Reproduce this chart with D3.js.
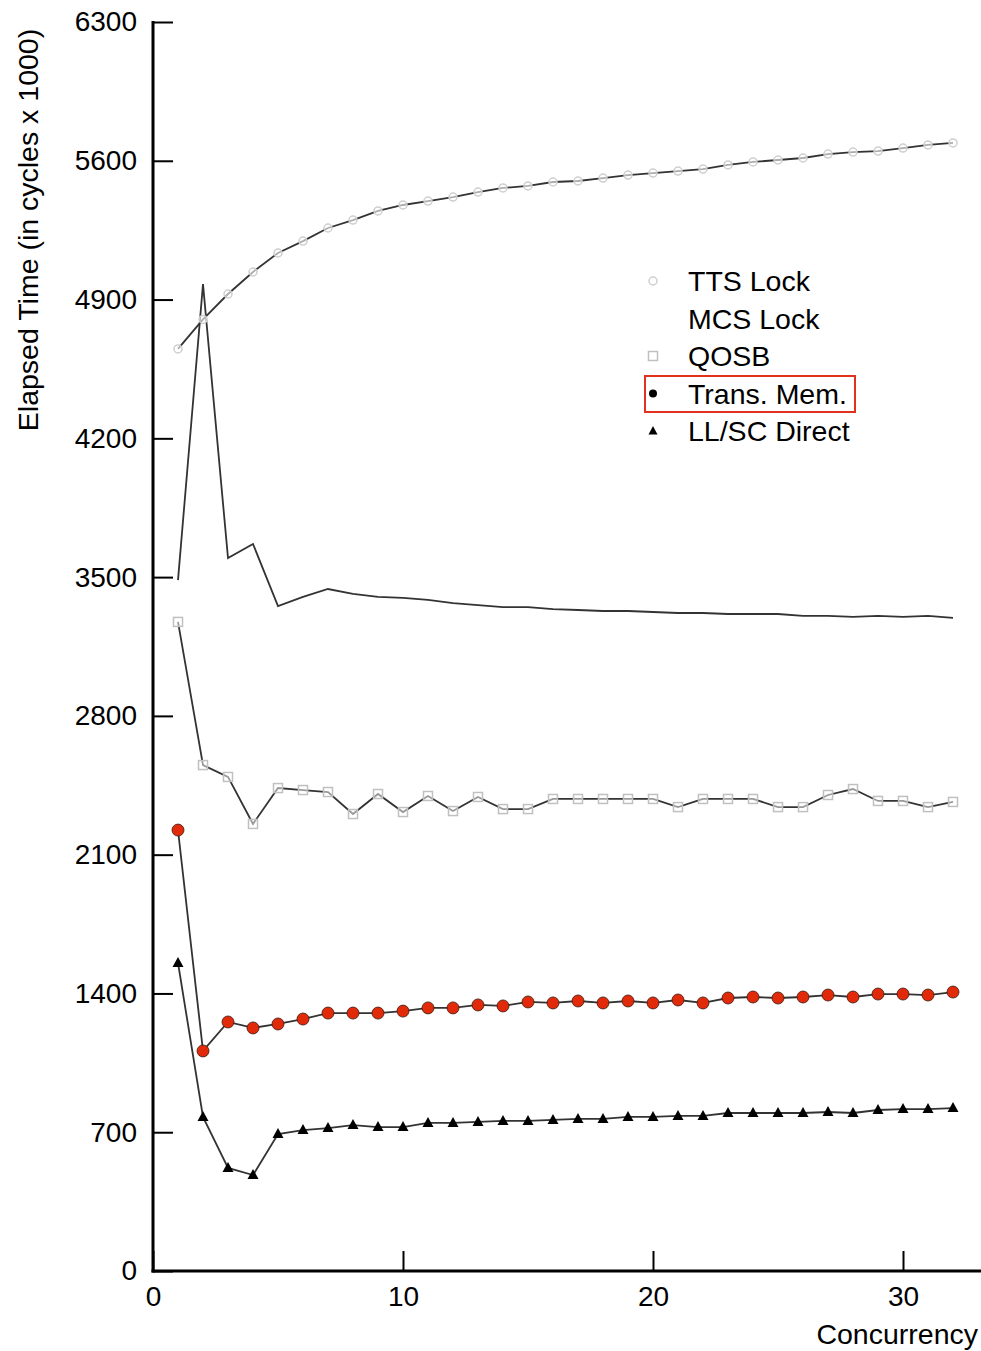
<!DOCTYPE html>
<html>
<head>
<meta charset="utf-8">
<script src="https://cdn.jsdelivr.net/npm/d3@7"></script>
<style>
  body { margin: 0; background: #fff; }
  svg text { font-family: "Liberation Sans", Arial, Helvetica, sans-serif; fill: #000; }
</style>
</head>
<body>
<div id="chart"></div>
<script>
// Concurrency levels
var concurrency = d3.range(1, 33);

// Series values (cycles x 1000)
var ttsLock = [4651, 4800, 4928, 5039, 5135, 5195, 5261, 5301, 5347, 5377, 5397, 5417, 5442, 5463, 5473, 5493,
               5498, 5513, 5528, 5538, 5548, 5558, 5579, 5594, 5604, 5614, 5634, 5644, 5649, 5664, 5680, 5690];
var mcsLock = [3485, 4978, 3596, 3667, 3354, 3400, 3440, 3415, 3400, 3395, 3385, 3369, 3359, 3349, 3349, 3339,
               3334, 3329, 3329, 3324, 3319, 3319, 3314, 3314, 3314, 3304, 3304, 3299, 3304, 3299, 3304, 3294];
var qosb = [3274, 2552, 2492, 2255, 2436, 2426, 2416, 2305, 2406, 2315, 2396, 2320, 2391, 2330, 2330, 2381,
            2381, 2381, 2381, 2381, 2340, 2381, 2381, 2381, 2340, 2340, 2401, 2431, 2371, 2371, 2340, 2366];
var transMem = [2224, 1110, 1256, 1226, 1246, 1271, 1301, 1301, 1301, 1311, 1327, 1327, 1342, 1337, 1357, 1352,
                1362, 1352, 1362, 1352, 1367, 1352, 1377, 1382, 1377, 1382, 1392, 1382, 1397, 1397, 1392, 1407];
var llscDirect = [1554, 777, 520, 484, 691, 711, 721, 736, 726, 726, 747, 747, 752, 757, 757, 762,
                  767, 767, 777, 777, 782, 782, 797, 797, 797, 797, 802, 797, 812, 817, 817, 822];

var xTicks = [0, 10, 20, 30];
var yTicks = [0, 700, 1400, 2100, 2800, 3500, 4200, 4900, 5600, 6300];
var seriesNames = ["TTS Lock", "MCS Lock", "QOSB", "Trans. Mem.", "LL/SC Direct"];
var seriesMarks = ["circle", "none", "square", "dot", "triangle"];

var width = 981, height = 1351;

var svg = d3.select("#chart").append("svg")
    .attr("width", width)
    .attr("height", height);

var x = d3.scaleLinear().domain([0, 30]).range([153, 903]);
var y = d3.scaleLinear().domain([0, 6300]).range([1271, 22]);

// Axes
var yAxis = d3.axisLeft(y).tickValues(yTicks).tickFormat(d3.format("d"))
    .tickSizeInner(-20).tickSizeOuter(0).tickPadding(16);
var gy = svg.append("g").attr("transform", "translate(" + x(0) + ",0)").call(yAxis);
gy.select(".domain").remove();
gy.selectAll(".tick line").attr("stroke", "#000").attr("stroke-width", 2);
gy.selectAll(".tick text").attr("font-size", 28).attr("fill", "#000");

var xAxis = d3.axisBottom(x).tickValues(xTicks).tickFormat(d3.format("d"))
    .tickSizeInner(-20).tickSizeOuter(0).tickPadding(15);
var gx = svg.append("g").attr("transform", "translate(0," + y(0) + ")").call(xAxis);
gx.select(".domain").remove();
gx.selectAll(".tick line").attr("stroke", "#000").attr("stroke-width", 2);
gx.selectAll(".tick text").attr("font-size", 28).attr("fill", "#000");

svg.append("line")
    .attr("x1", x(0)).attr("x2", x(0))
    .attr("y1", y(6300) - 1).attr("y2", y(0) + 1.5)
    .attr("stroke", "#000").attr("stroke-width", 3);
svg.append("line")
    .attr("x1", x(0) - 1.5).attr("x2", width)
    .attr("y1", y(0)).attr("y2", y(0))
    .attr("stroke", "#000").attr("stroke-width", 3);

// Axis titles
svg.append("text")
    .attr("transform", "translate(38," + 230 + ") rotate(-90)")
    .attr("text-anchor", "middle")
    .attr("font-size", 28.5)
    .text("Elapsed Time (in cycles x 1000)");
svg.append("text")
    .attr("x", 978).attr("y", 1344)
    .attr("text-anchor", "end")
    .attr("font-size", 28.5)
    .text("Concurrency");

// Lines
var line = d3.line()
    .x(function(d, i) { return x(concurrency[i]); })
    .y(function(d) { return y(d); });

var allSeries = [ttsLock, mcsLock, qosb, transMem, llscDirect];
allSeries.forEach(function(s) {
    svg.append("path")
	.attr("d", line(s))
	.attr("fill", "none")
	.attr("stroke", "#333")
	.attr("stroke-width", 1.8);
});

// Markers
function drawMark(g, kind, cx, cy) {
    switch(kind) {
    case "circle":
	g.append("circle").attr("cx", cx).attr("cy", cy).attr("r", 4)
	    .attr("fill", "#fff").attr("fill-opacity", 0.6).attr("stroke", "#cfcfcf").attr("stroke-width", 1.5);
	break;
    case "square":
	g.append("rect").attr("x", cx - 4.5).attr("y", cy - 4.5).attr("width", 9).attr("height", 9)
	    .attr("fill", "#fff").attr("fill-opacity", 0.5).attr("stroke", "#c0c0c0").attr("stroke-width", 1.5);
	break;
    case "dot":
	g.append("circle").attr("cx", cx).attr("cy", cy).attr("r", 6)
	    .attr("fill", "#e02a0a").attr("stroke", "#3a1a10").attr("stroke-width", 0.8);
	break;
    case "triangle":
	g.append("path")
	    .attr("d", "M" + cx + "," + (cy - 6) + "L" + (cx + 5.5) + "," + (cy + 4) + "L" + (cx - 5.5) + "," + (cy + 4) + "Z")
	    .attr("fill", "#000");
	break;
    }
}

var markG = svg.append("g");
allSeries.forEach(function(s, k) {
    if (seriesMarks[k] == "none") return;
    s.forEach(function(v, i) {
	drawMark(markG, seriesMarks[k], x(concurrency[i]), y(v));
    });
});

// Legend
var legend = svg.append("g");
seriesNames.forEach(function(name, k) {
    var ly = 281 + k * 37.5;
    if (seriesMarks[k] == "dot") {
	legend.append("circle").attr("cx", 653).attr("cy", ly).attr("r", 4).attr("fill", "#000");
    } else if (seriesMarks[k] == "triangle") {
	legend.append("path").attr("d", "M653," + (ly - 5) + "L657.5," + (ly + 3.5) + "L648.5," + (ly + 3.5) + "Z").attr("fill", "#000");
    } else if (seriesMarks[k] != "none") {
	drawMark(legend, seriesMarks[k], 653, ly);
    }
    legend.append("text")
	.attr("x", 688).attr("y", ly)
	.attr("dy", "0.36em")
	.attr("font-size", 28.5)
	.text(name);
});
legend.append("rect")
    .attr("x", 645).attr("y", 376).attr("width", 210).attr("height", 36)
    .attr("fill", "none").attr("stroke", "#e0321e").attr("stroke-width", 2);
</script>
</body>
</html>
